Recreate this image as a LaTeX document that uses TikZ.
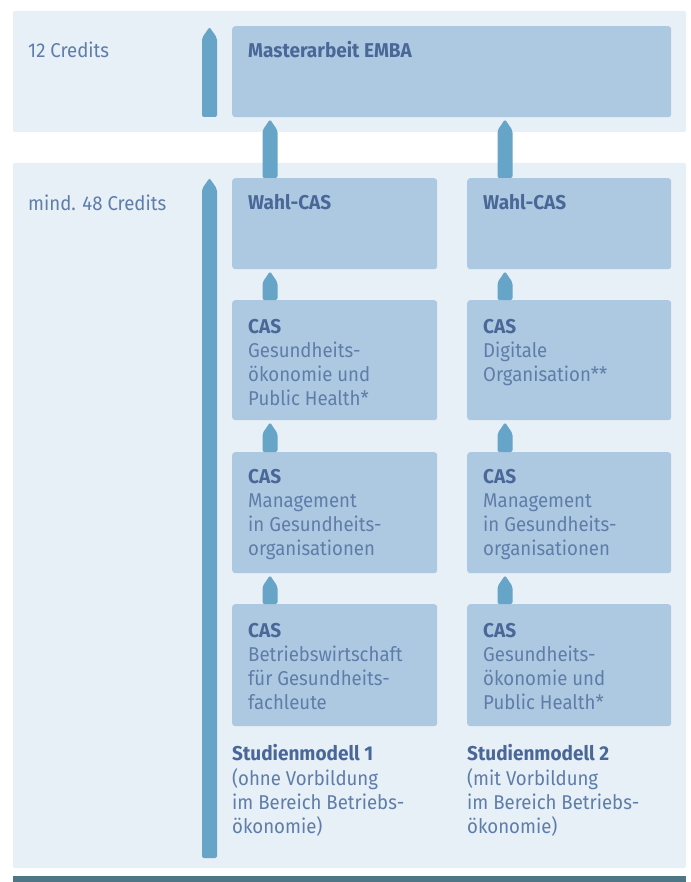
\documentclass[tikz,border=0pt]{standalone}
\usepackage{fontspec}
\setmainfont{Fira Sans}[UprightFeatures={FakeStretch=0.93},BoldFeatures={FakeStretch=0.95}]
\usetikzlibrary{calc,positioning}
\definecolor{panelbg}{HTML}{E7EFF7}
\definecolor{boxbg}{HTML}{ADC9E2}
\definecolor{arrowblue}{HTML}{66A4C8}
\definecolor{barteal}{HTML}{4F7684}
\definecolor{textblue}{HTML}{5E7DA9}
\definecolor{headblue}{HTML}{4A6897}
\tikzset{
	panel/.style={fill=panelbg,rounded corners=2pt},%
	casbox/.style={fill=boxbg,rounded corners=3pt,anchor=north west,inner sep=0pt,minimum height=#1},%
	liftarrow/.style={fill=arrowblue,rounded corners=2pt},%
	boxtext/.style={anchor=north west,inner sep=0pt,align=left,text=textblue,font=\fontsize{20}{24}\selectfont},%
}
\newcommand{\hd}[1]{\textcolor{headblue}{\bfseries #1}}
% block arrow from the top of #1 up to the bottom of #2
\newcommand{\liftup}[2]{%
	\fill[liftarrow] let \p1=(#1.north west), \p2=(#2.south) in
		(\x1+30.5pt,\y1) -- (\x1+30.5pt,\y2-13pt) -- (\x1+38pt,\y2-2pt) -- (\x1+45.5pt,\y2-13pt) -- (\x1+45.5pt,\y1) -- cycle;}

\begin{document}
\begin{tikzpicture}[%
		x=1pt,y=-1pt,%
		]
		\useasboundingbox (0,0) rectangle (690,882);
		% panels
		\fill[panel] (13,11) rectangle (686,132);
		\fill[panel] (13,163) rectangle (686,868);
		\fill[barteal] (13,876) rectangle (686,884);
		\node[boxtext] at (28,40.2) {\strut 12 Credits};
		\node[boxtext] at (28,193.2) {\strut mind. 48 Credits};
		% credit arrows
		\coordinate (topfoot) at (209.5,117);
		\coordinate (topcap) at (209.5,27);
		\coordinate (lowfoot) at (209.5,858);
		\coordinate (lowcap) at (209.5,178);
		\foreach \f/\c in {topfoot/topcap,lowfoot/lowcap}{
			\fill[liftarrow] let \p1=(\f), \p2=(\c) in
				(\x1-7.5pt,\y1) -- (\x1-7.5pt,\y2-11pt) -- (\x2,\y2) -- (\x1+7.5pt,\y2-11pt) -- (\x1+7.5pt,\y1) -- cycle;
		}
		% boxes
		\node[casbox=91pt,minimum width=439pt] (master) at (232,26) {};
		\node[casbox=91pt,minimum width=205pt] (wahlA) at (232,178) {};
		\node[casbox=91pt,minimum width=204pt] (wahlB) at (467,178) {};
		\node[casbox=120pt,minimum width=205pt] (casA2) at (232,300) {};
		\node[casbox=120pt,minimum width=204pt] (casB2) at (467,300) {};
		\node[casbox=121pt,minimum width=205pt] (casA3) at (232,452) {};
		\node[casbox=121pt,minimum width=204pt] (casB3) at (467,452) {};
		\node[casbox=122pt,minimum width=205pt] (casA4) at (232,604) {};
		\node[casbox=122pt,minimum width=204pt] (casB4) at (467,604) {};
		% arrows between boxes
		\liftup{wahlA}{master}
		\liftup{wahlB}{master}
		\liftup{casA2}{wahlA}
		\liftup{casB2}{wahlB}
		\liftup{casA3}{casA2}
		\liftup{casB3}{casB2}
		\liftup{casA4}{casA3}
		\liftup{casB4}{casB3}
		% texts
		\node[boxtext] at ($(master.north west)+(16,14.2)$) {\strut\hd{Masterarbeit EMBA}};
		\node[boxtext] at ($(wahlA.north west)+(16,14.2)$) {\strut\hd{Wahl-CAS}};
		\node[boxtext] at ($(wahlB.north west)+(16,14.2)$) {\strut\hd{Wahl-CAS}};
		\node[boxtext] at ($(casA2.north west)+(16,16)$) {\strut\hd{CAS}\\Gesundheits-\\ökonomie und\\Public Health*};
		\node[boxtext] at ($(casB2.north west)+(16,16)$) {\strut\hd{CAS}\\Digitale\\Organisation**};
		\node[boxtext] at ($(casA3.north west)+(16,14.2)$) {\strut\hd{CAS}\\Management\\in Gesundheits-\\organisationen};
		\node[boxtext] at ($(casB3.north west)+(16,14.2)$) {\strut\hd{CAS}\\Management\\in Gesundheits-\\organisationen};
		\node[boxtext] at ($(casA4.north west)+(16,16)$) {\strut\hd{CAS}\\Betriebswirtschaft\\für Gesundheits-\\fachleute};
		\node[boxtext] at ($(casB4.north west)+(16,16)$) {\strut\hd{CAS}\\Gesundheits-\\ökonomie und\\Public Health*};
		\node[boxtext] (modelA) at ($(casA4.south west)+(0,17.2)$) {\strut\hd{Studienmodell 1}\\(ohne Vorbildung\\im Bereich Betriebs-\\ökonomie)};
		\node[boxtext] (modelB) at ($(casB4.south west)+(0,17.2)$) {\strut\hd{Studienmodell 2}\\(mit Vorbildung\\im Bereich Betriebs-\\ökonomie)};
	\end{tikzpicture}
\end{document}
